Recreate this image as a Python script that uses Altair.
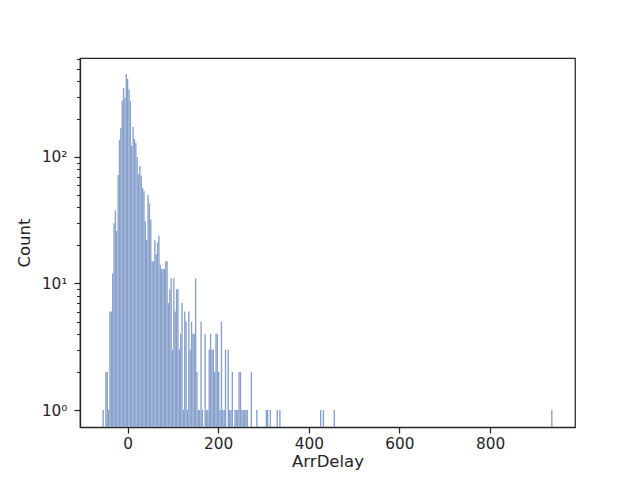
import altair as alt
import numpy as np
import pandas as pd

# Histogram of ArrDelay (bin index -> count), bins of width ~3 starting at ~-55.2
bin_index = [0, 2, 3, 4, 5, 6, 7, 8, 9, 10, 11, 12, 13, 14, 15, 16, 17, 18, 19, 20,
             21, 22, 23, 24, 25, 26, 27, 28, 29, 30, 31, 32, 33, 34, 35, 36, 37, 38, 39, 40,
             41, 42, 43, 44, 45, 46, 47, 48, 49, 50, 51, 52, 53, 54, 55, 56, 57, 58, 59, 60,
             61, 62, 63, 64, 65, 66, 67, 68, 69, 70, 71, 72, 73, 75, 76, 77, 78, 79, 80, 81,
             82, 83, 84, 85, 86, 87, 88, 89, 90, 92, 93, 94, 95, 97, 98, 99, 100, 101, 102, 103,
             104, 105, 106, 109, 113, 120, 121, 123, 128, 130, 160, 162, 170, 330]
counts = [1, 2, 2, 1, 6, 6, 12, 30, 38, 26, 72, 136, 170, 278, 350, 293, 453, 414, 340, 278,
          122, 173, 139, 129, 100, 73, 85, 71, 57, 54, 31, 22, 50, 43, 32, 15, 15, 22, 17, 21,
          24, 14, 13, 13, 13, 15, 15, 7, 9, 11, 3, 11, 6, 9, 9, 3, 4, 7, 1, 6,
          5, 1, 6, 3, 5, 4, 4, 11, 2, 1, 1, 5, 1, 4, 1, 1, 3, 4, 3, 3,
          2, 4, 4, 2, 1, 5, 1, 1, 3, 3, 1, 1, 2, 1, 1, 1, 2, 2, 1, 1,
          1, 1, 1, 2, 1, 1, 1, 1, 1, 1, 1, 1, 1, 1]
bin_start0 = -55.2
bin_width = 3.0

x_ticks = [0, 200, 400, 600, 800]
y_major = [1, 10, 100]
y_minor = [2, 3, 4, 5, 6, 7, 8, 9, 20, 30, 40, 50, 60, 70, 80, 90, 200, 300, 400, 500, 600]

idx = np.array(bin_index)
df = pd.DataFrame({
    "start": bin_start0 + bin_width * idx,
    "end": bin_start0 + bin_width * (idx + 1),
    "Count": counts,
})

W, H = 495, 369
dark = "#262626"
font = "DejaVu Sans"

label_expr = ("datum.value == 1 ? '10\u2070' : datum.value == 10 ? '10\u00b9' : "
              "datum.value == 100 ? '10\u00b2' : ''")
major_test = "datum.value == 1 || datum.value == 10 || datum.value == 100"

chart = alt.Chart(df).mark_bar(color="#87a0cc", strokeWidth=0).encode(
    x=alt.X("start:Q",
            scale=alt.Scale(domain=[-104.85, 987.45], nice=False, zero=False),
            axis=alt.Axis(title="ArrDelay", values=x_ticks, format="d", grid=False,
                          domain=True, domainColor=dark, domainWidth=1.25,
                          tickColor=dark, tickWidth=1.25, tickSize=6,
                          labelColor=dark, labelFont=font, labelFontSize=15.3,
                          labelPadding=3, titleFont=font, titleFontSize=16.5,
                          titleFontWeight="normal", titleColor=dark, titlePadding=2,
                          zindex=1)),
    x2="end:Q",
    y=alt.Y("Count:Q",
            scale=alt.Scale(type="log", domain=[0.734, 606], nice=False),
            axis=alt.Axis(title="Count", values=y_major + y_minor, labelExpr=label_expr,
                          labelOverlap=False, grid=False,
                          domain=True, domainColor=dark, domainWidth=1.25,
                          tickColor=dark,
                          tickSize={"condition": {"test": major_test, "value": 6}, "value": 3.5},
                          tickWidth={"condition": {"test": major_test, "value": 1.25}, "value": 1},
                          labelColor=dark, labelFont=font, labelFontSize=15.3,
                          labelPadding=7, titleFont=font, titleFontSize=16.5,
                          titleFontWeight="normal", titleColor=dark, titlePadding=9,
                          zindex=1)),
    y2=alt.value(H),
).properties(
    width=W, height=H,
    autosize=alt.AutoSizeParams(type="none"),
    padding={"left": 72, "top": 50, "right": 57, "bottom": 45},
).configure_view(stroke=dark, strokeWidth=1.25)

chart.save("out.html", embed_options={"renderer": "svg", "actions": False})
